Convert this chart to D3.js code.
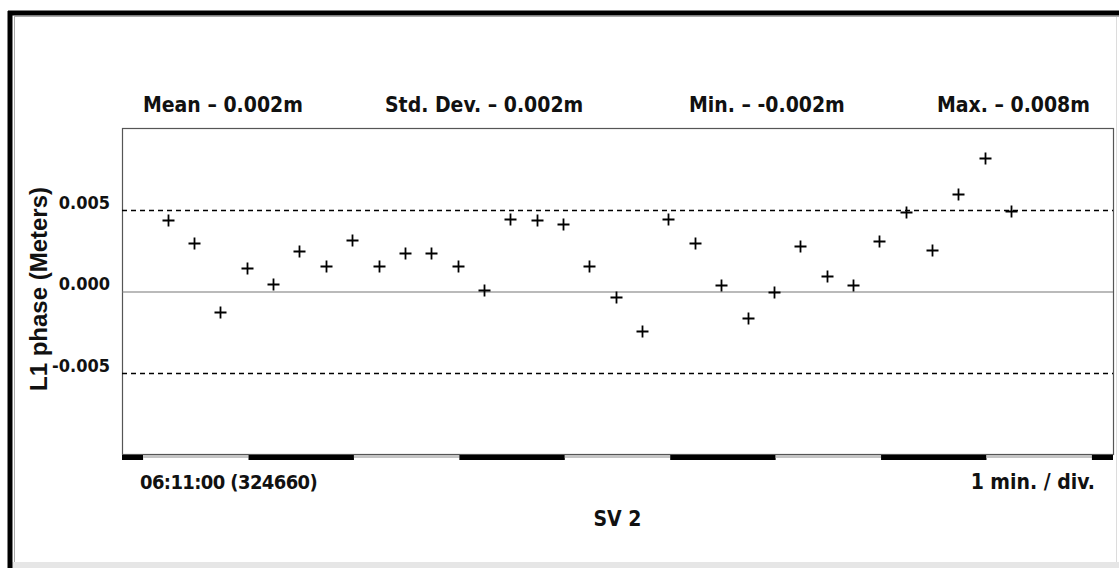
<!DOCTYPE html>
<html>
<head>
<meta charset="utf-8">
<script src="https://cdn.jsdelivr.net/npm/d3@7"></script>
<style>
body { margin: 0; background: #fff; }
text { font-family: "Liberation Sans Narrow", "DejaVu Sans Condensed", "Liberation Sans", sans-serif; font-weight: bold; fill: #111; }
</style>
</head>
<body>
<svg id="chart" width="1119" height="568"></svg>
<script>
// seconds after 06:11:00, one fix every 15 s
var times = [14, 29, 44, 59, 74, 89, 104, 119, 134, 149, 164, 179, 194, 209, 224, 239,
             254, 269, 284, 299, 314, 329, 344, 359, 374, 389, 404, 419, 434, 449, 464, 479, 494];
// L1 phase residuals (m)
var phase = [0.0044, 0.0030, -0.0012, 0.0015, 0.0005, 0.0025, 0.0016, 0.0032, 0.0016, 0.0024, 0.0024,
             0.0016, 0.0001, 0.0045, 0.0044, 0.0042, 0.0016, -0.0003, -0.0024, 0.0045, 0.0030, 0.0004,
             -0.0016, 0.0000, 0.0028, 0.0010, 0.0004, 0.0031, 0.0049, 0.0026, 0.0060, 0.0082, 0.0050];
var yTicks = [-0.005, 0, 0.005];
var limitLines = [-0.005, 0.005];
// minute divisions along the time bar (s)
var divEdges = [-12, 0, 60, 120, 180, 240, 300, 360, 420, 480, 540, 552];
var startLabel = "06:11:00 (324660)";
var scaleLabel = "1 min. / div.";
var satLabel = "SV 2";
var yTitle = "L1 phase (Meters)";

var svg = d3.select("#chart");
var W = 1119, H = 568;
var plot = {left: 122, right: 1113, top: 128, bottom: 454};

var x = d3.scaleLinear().domain([divEdges[0], divEdges[divEdges.length - 1]]).range([plot.left, plot.right]);
var y = d3.scaleLinear().domain([-0.01, 0.01]).range([455, 129]);

// plain hyphen for negatives, like the original
var fmt = d3.formatLocale({decimal: ".", thousands: ",", grouping: [3], currency: ["", ""], minus: "-"}).format(".3f");

// sunken window frame
svg.append("rect").attr("x", 0).attr("y", 0).attr("width", W).attr("height", H).attr("fill", "#fff");
svg.append("rect").attr("x", 8).attr("y", 562).attr("width", W - 8).attr("height", 6).attr("fill", "#e6e6e6");
svg.append("line").attr("x1", 1116.5).attr("x2", 1116.5).attr("y1", 16).attr("y2", 562).attr("stroke", "#dcdcdc");
svg.append("line").attr("x1", 14.5).attr("x2", 14.5).attr("y1", 16).attr("y2", 562).attr("stroke", "#aaa");
svg.append("line").attr("x1", 14).attr("x2", W).attr("y1", 16.5).attr("y2", 16.5).attr("stroke", "#aaa");
svg.append("line").attr("x1", 10).attr("x2", 10).attr("y1", 11).attr("y2", H).attr("stroke", "#000").attr("stroke-width", 5);
svg.append("line").attr("x1", 8).attr("x2", W).attr("y1", 13).attr("y2", 13).attr("stroke", "#000").attr("stroke-width", 5);

// stats header
var stats = [
  {label: "Mean \u2013 " + fmt(d3.mean(phase)) + "m", x: 143},
  {label: "Std. Dev. \u2013 " + fmt(d3.deviation(phase)) + "m", x: 385},
  {label: "Min. \u2013 " + fmt(d3.min(phase)) + "m", x: 689},
  {label: "Max. \u2013 " + fmt(d3.max(phase)) + "m", x: 937}
];
svg.append("g").selectAll("text").data(stats).enter().append("text")
  .attr("x", function(d) { return d.x; })
  .attr("y", 112)
  .attr("font-size", 21)
  .text(function(d) { return d.label; });

// plot box
svg.append("rect")
  .attr("x", plot.left + 0.5).attr("y", plot.top + 0.5)
  .attr("width", plot.right - plot.left).attr("height", plot.bottom - plot.top)
  .attr("fill", "none").attr("stroke", "#555").attr("stroke-width", 1.2);

// zero line and +/- limit lines
svg.append("line")
  .attr("x1", plot.left).attr("x2", plot.right)
  .attr("y1", y(0)).attr("y2", y(0))
  .attr("stroke", "#777").attr("stroke-width", 1.2);
svg.append("g").selectAll("line").data(limitLines).enter().append("line")
  .attr("x1", plot.left).attr("x2", plot.right)
  .attr("y1", function(d) { return y(d); }).attr("y2", function(d) { return y(d); })
  .attr("stroke", "#000").attr("stroke-width", 1.6)
  .attr("stroke-dasharray", "5,4");

// y tick labels sit just above their lines
svg.append("g").selectAll("text").data(yTicks).enter().append("text")
  .attr("x", 110)
  .attr("y", function(d) { return y(d) - 2; })
  .attr("text-anchor", "end")
  .attr("font-size", 18)
  .text(function(d) { return fmt(d); });

svg.append("text")
  .attr("transform", "translate(47,289) rotate(-90)")
  .attr("text-anchor", "middle")
  .attr("font-size", 24)
  .style("font-family", "'Liberation Sans', Arial, sans-serif")
  .text(yTitle);

// time bar, alternating black / grey minute divisions
var segs = d3.pairs(divEdges);
svg.append("g").selectAll("rect").data(segs).enter().append("rect")
  .attr("x", function(d) { return x(d[0]); })
  .attr("y", plot.bottom + 1)
  .attr("width", function(d) { return x(d[1]) - x(d[0]); })
  .attr("height", function(d, i) { return i % 2 ? 3 : 5; })
  .attr("fill", function(d, i) { return i % 2 ? "#c4c4c4" : "#000"; });

svg.append("text").attr("x", 140).attr("y", 489).attr("font-size", 20).attr("letter-spacing", -0.6).text(startLabel);
svg.append("text").attr("x", 1095).attr("y", 489).attr("text-anchor", "end").attr("font-size", 21).text(scaleLabel);
svg.append("text").attr("x", (plot.left + plot.right) / 2).attr("y", 526).attr("text-anchor", "middle").attr("font-size", 21).text(satLabel);

// plus markers
var s = 6;
svg.append("g").selectAll("path").data(times).enter().append("path")
  .attr("d", function(t, i) {
    var cx = Math.round(x(t)) + 0.5, cy = Math.round(y(phase[i])) + 0.5;
    return "M" + (cx - s) + "," + cy + "H" + (cx + s) + "M" + cx + "," + (cy - s) + "V" + (cy + s);
  })
  .attr("stroke", "#000").attr("stroke-width", 1.8).attr("fill", "none");
</script>
</body>
</html>
